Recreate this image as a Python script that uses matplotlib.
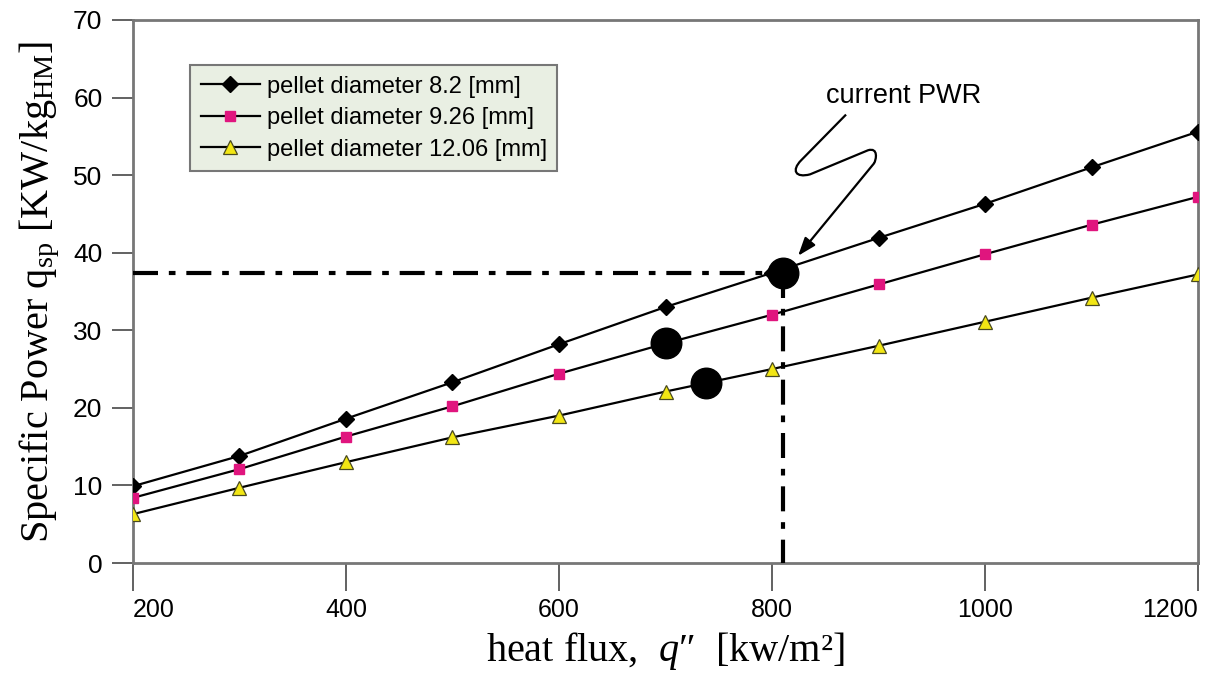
import matplotlib
matplotlib.use("Agg")
import matplotlib.pyplot as plt
from matplotlib.path import Path
from matplotlib.patches import PathPatch
import numpy as np

plt.rcParams['font.family'] = ['Liberation Sans', 'DejaVu Sans']
plt.rcParams['mathtext.fontset'] = 'custom'
plt.rcParams['mathtext.rm'] = 'Liberation Serif'
plt.rcParams['mathtext.it'] = 'Liberation Serif:italic'

# data
heat_flux = [200, 300, 400, 500, 600, 700, 800, 900, 1000, 1100, 1200]
q_82 = [9.9, 13.8, 18.6, 23.3, 28.2, 33.0, 37.4, 41.9, 46.3, 51.0, 55.6]
q_926 = [8.4, 12.1, 16.3, 20.2, 24.4, 28.3, 32.0, 35.9, 39.8, 43.6, 47.2]
q_1206 = [6.3, 9.7, 13.0, 16.2, 19.0, 22.1, 25.0, 28.0, 31.1, 34.2, 37.2]
labels = ['pellet diameter 8.2 [mm]', 'pellet diameter 9.26 [mm]',
          'pellet diameter 12.06 [mm]']

# highlighted design points (big black dots)
pt_x = [810, 700, 738]
pt_y = [37.4, 28.3, 23.2]
pwr_x, pwr_y = 810, 37.4

fig = plt.figure(figsize=(12.2, 6.78), dpi=100)
ax = fig.add_axes([0.109, 0.1696, 0.873, 0.801])

ax.plot(heat_flux, q_82, '-', color='k', lw=1.6, marker='D', ms=8,
        mfc='k', mec='k', label=labels[0], zorder=3)
ax.plot(heat_flux, q_926, '-', color='k', lw=1.6, marker='s', ms=7.5,
        mfc='#e0157e', mec='#e0157e', label=labels[1], zorder=3)
ax.plot(heat_flux, q_1206, '-', color='k', lw=1.6, marker='^', ms=9.5,
        mfc='#f2e614', mec='#4a4a20', mew=0.9, label=labels[2], zorder=3)

ax.plot(pt_x, pt_y, 'o', color='k', ms=22, ls='none', zorder=5)

dash = (0, (6, 2.6, 1.6, 2.6))
ax.plot([200, pwr_x], [pwr_y, pwr_y], color='k', lw=3, ls=dash, zorder=4)
ax.plot([pwr_x, pwr_x], [pwr_y, 0], color='k', lw=3, ls=dash, zorder=4)

# squiggly arrow to current PWR
verts = [(869.5, 57.8), (827.3, 51.9), (818, 50.6), (822, 49.6), (835.8, 50.1),
         (890.1, 53.2), (900, 53.6), (898, 52.0), (895.7, 51.5)]
codes = [Path.MOVETO, Path.LINETO, Path.CURVE4, Path.CURVE4, Path.CURVE4,
         Path.LINETO, Path.CURVE4, Path.CURVE4, Path.CURVE4]
ax.add_patch(PathPatch(Path(verts, codes), fc='none', ec='k', lw=1.6, zorder=6))
ax.annotate('', xy=(824.5, 39.6), xytext=(895.7, 51.5),
            arrowprops=dict(arrowstyle='-|>,head_length=1.1,head_width=0.4',
                            color='k', lw=1.6, shrinkA=0, shrinkB=0), zorder=6)
ax.text(851, 60.2, 'current PWR', fontsize=19.5, ha='left', va='center')

ax.set_xlim(200, 1200)
ax.set_ylim(0, 70)
ax.set_xticks([200, 400, 600, 800, 1000, 1200])
ax.set_yticks(np.arange(0, 71, 10))
ax.tick_params(axis='x', direction='out', length=20, width=1.3, color='#555555',
               labelsize=18, pad=5)
ax.tick_params(axis='y', direction='out', length=15, width=1.3, color='#555555',
               labelsize=19, pad=7)
xt = ax.get_xticklabels()
xt[0].set_ha('left')
xt[-1].set_ha('right')
for s in ax.spines.values():
    s.set_color('#777777')
    s.set_linewidth(2)

ax.set_xlabel('heat flux,  $q$″  [kw/m²]', family='Liberation Serif',
              fontsize=29, labelpad=6)
ax.set_ylabel('Specific Power q$_{\\rm sp}$ [KW/kg$_{\\rm HM}$]',
              family='Liberation Serif', fontsize=29, labelpad=8)

leg = ax.legend(loc='upper left', bbox_to_anchor=(0.0535, 0.917),
                borderaxespad=0, fontsize=17, handlelength=2.5,
                handletextpad=0.3, labelspacing=0.4, borderpad=0.45,
                fancybox=False, frameon=True)
leg.get_frame().set_facecolor('#e9efe3')
leg.get_frame().set_edgecolor('#777777')
leg.get_frame().set_linewidth(1.5)
leg.get_frame().set_alpha(1)

fig.savefig('out.png', dpi=100)
